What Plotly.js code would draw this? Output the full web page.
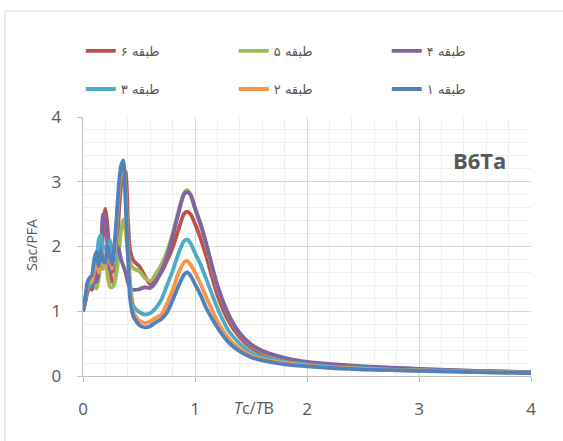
<!DOCTYPE html>
<html>
<head>
<meta charset="utf-8">
<script src="https://cdn.plot.ly/plotly-3.0.1.min.js"></script>
<style>html,body{margin:0;padding:0;background:#fff;}#chart{width:563px;height:441px;}</style>
</head>
<body>
<div id="chart"></div>
<script>
// Tc/TB values (shared x)
const ratio = [0, 0.02, 0.04, 0.06, 0.08, 0.10, 0.12, 0.14, 0.16, 0.18, 0.20, 0.22, 0.24, 0.26, 0.28, 0.30, 0.32, 0.34, 0.36, 0.38, 0.40, 0.42, 0.45, 0.50, 0.55, 0.60, 0.65, 0.70, 0.75, 0.80, 0.85, 0.90, 0.93, 0.96, 1.00, 1.05, 1.10, 1.20, 1.30, 1.40, 1.50, 1.60, 1.80, 2.00, 2.25, 2.50, 2.75, 3.00, 3.50, 4.00];

const seriesNames = ["طبقه ۶", "طبقه ۵", "طبقه ۴", "طبقه ۳", "طبقه ۲", "طبقه ۱"];

const floor6 = [1.0,1.15,1.35,1.4,1.33,1.45,1.6,1.7,1.8,2.2,2.58,2.3,1.7,1.45,1.45,1.85,2.5,2.95,3.18,3.15,2.45,1.95,1.78,1.7,1.55,1.42,1.5,1.6,1.78,1.98,2.25,2.5,2.54,2.5,2.35,2.12,1.85,1.25,0.85,0.6,0.44,0.35,0.26,0.2,0.16,0.14,0.12,0.1,0.075,0.055];
const floor5 = [1.0,1.15,1.3,1.4,1.45,1.38,1.35,1.5,1.75,1.65,1.85,1.55,1.38,1.37,1.42,1.6,1.9,2.25,2.42,2.25,1.9,1.75,1.66,1.62,1.52,1.46,1.58,1.72,1.92,2.2,2.53,2.82,2.87,2.8,2.58,2.32,2.02,1.38,0.94,0.65,0.48,0.38,0.27,0.21,0.17,0.145,0.125,0.105,0.078,0.058];
const floor4 = [1.0,1.15,1.3,1.4,1.35,1.5,1.45,1.6,1.9,2.5,2.45,1.95,1.65,1.6,1.8,2.0,1.95,1.8,1.7,1.6,1.45,1.36,1.33,1.34,1.37,1.36,1.45,1.62,1.85,2.15,2.5,2.8,2.84,2.8,2.6,2.35,2.05,1.4,0.95,0.66,0.49,0.39,0.28,0.22,0.18,0.15,0.13,0.11,0.08,0.06];
const floor3 = [1.0,1.2,1.35,1.4,1.5,1.75,1.8,2.1,2.18,1.95,2.0,1.85,2.1,1.9,1.75,2.3,2.8,3.15,3.28,2.85,2.1,1.45,1.08,0.99,0.95,0.97,1.05,1.18,1.4,1.62,1.88,2.08,2.11,2.05,1.9,1.72,1.5,1.05,0.7,0.5,0.37,0.3,0.22,0.18,0.14,0.12,0.1,0.09,0.07,0.05];
const floor2 = [1.0,1.2,1.4,1.5,1.45,1.65,1.85,1.6,1.8,1.9,1.7,1.95,1.8,1.65,1.9,2.35,2.85,3.15,3.25,2.8,2.0,1.35,0.98,0.86,0.82,0.84,0.9,0.95,1.12,1.32,1.58,1.75,1.78,1.72,1.6,1.42,1.22,0.85,0.58,0.42,0.32,0.26,0.2,0.16,0.13,0.11,0.095,0.085,0.065,0.048];
const floor1 = [1.0,1.2,1.45,1.52,1.55,1.8,1.92,1.7,1.93,1.78,1.75,2.0,1.85,1.72,2.0,2.45,2.95,3.25,3.33,2.7,1.9,1.2,0.92,0.79,0.75,0.77,0.83,0.88,0.98,1.17,1.38,1.56,1.6,1.55,1.42,1.25,1.05,0.75,0.52,0.38,0.29,0.24,0.18,0.15,0.12,0.1,0.09,0.08,0.06,0.045];

const xTicks = [0, 1, 2, 3, 4];
const yTicks = [0, 1, 2, 3, 4];

const colors = ["#C0504D", "#9BBB59", "#8064A2", "#4BACC6", "#F79646", "#4F81BD"];
const values = [floor6, floor5, floor4, floor3, floor2, floor1];
const legendIds = ["legend", "legend", "legend", "legend2", "legend2", "legend2"];

const traces = values.map((v, i) => ({
  x: ratio, y: v, name: seriesNames[i], type: "scatter", mode: "lines",
  line: {color: colors[i], width: 3.8, shape: "spline", smoothing: 0.6},
  legend: legendIds[i], hoverinfo: "skip"
}));

const grey = "#595959";
const fontFam = "'Open Sans', 'Noto Sans', 'DejaVu Sans', sans-serif";

const legendCommon = {
  orientation: "h", xanchor: "left", yanchor: "middle", x: -0.005,
  entrywidth: 108, entrywidthmode: "pixels", bgcolor: "rgba(0,0,0,0)",
  font: {family: "'DejaVu Sans', sans-serif", size: 13, color: grey}, traceorder: "normal",
  itemclick: false
};

const layout = {
  width: 563, height: 441,
  margin: {l: 83, r: 32, t: 117, b: 65},
  paper_bgcolor: "#fff", plot_bgcolor: "#fff",
  font: {family: fontFam, color: grey},
  showlegend: true,
  legend: Object.assign({}, legendCommon, {y: 1.255}),
  legend2: Object.assign({}, legendCommon, {y: 1.108}),
  xaxis: {
    range: [0, 4], tickvals: xTicks, ticktext: xTicks.map(String),
    showgrid: true, gridcolor: "#d9d9d9", gridwidth: 1,
    minor: {dtick: 0.2, showgrid: true, gridcolor: "#efefef", gridwidth: 1},
    showline: true, linecolor: "#bfbfbf", linewidth: 1.3,
    ticks: "outside", ticklen: 5, tickcolor: "#bfbfbf",
    tickfont: {size: 17, color: grey}, ticklabelstandoff: 12,
    zeroline: false, fixedrange: true
  },
  yaxis: {
    range: [0, 4], tickvals: yTicks, ticktext: yTicks.map(String),
    showgrid: true, gridcolor: "#d9d9d9", gridwidth: 1,
    minor: {dtick: 0.2, showgrid: true, gridcolor: "#efefef", gridwidth: 1},
    showline: true, linecolor: "#bfbfbf", linewidth: 1.3,
    ticks: "outside", ticklen: 5, tickcolor: "#bfbfbf",
    tickfont: {size: 17, color: grey}, ticklabelstandoff: 12,
    zeroline: false, fixedrange: true
  },
  annotations: [
    {text: "<b>B6Ta</b>", xref: "paper", yref: "paper", x: 0.885, y: 0.835,
     xanchor: "center", yanchor: "middle", showarrow: false,
     font: {size: 22, color: grey, family: fontFam}},
    {text: "<i>T</i>c/<i>T</i>B", xref: "paper", yref: "paper", x: 0.382, y: -0.124,
     xanchor: "center", yanchor: "middle", showarrow: false,
     font: {size: 16, color: grey, family: fontFam}},
    {text: "Sac/PFA", xref: "paper", yref: "paper", x: -0.114, y: 0.506,
     xanchor: "center", yanchor: "middle", textangle: -90, showarrow: false,
     font: {size: 14, color: grey, family: fontFam}}
  ],
  shapes: [
    {type: "rect", xref: "paper", yref: "paper", x0: -0.174, x1: 1.1, y0: -0.3, y1: 1.409,
     line: {color: "#d9d9d9", width: 1}, fillcolor: "rgba(0,0,0,0)", layer: "below"}
  ]
};

Plotly.newPlot("chart", traces, layout, {displayModeBar: false, staticPlot: true});
</script>
</body>
</html>
